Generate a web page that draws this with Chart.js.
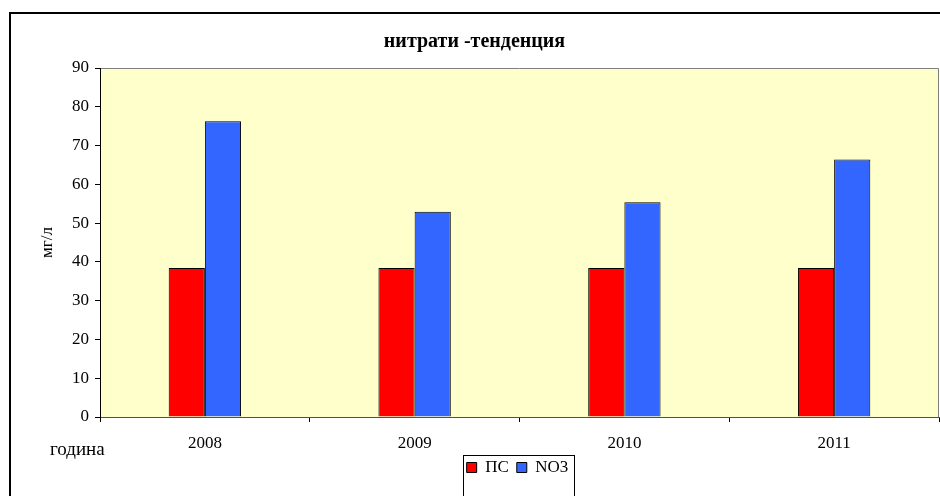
<!DOCTYPE html>
<html>
<head>
<meta charset="utf-8">
<title>нитрати -тенденция</title>
<script src="https://cdn.jsdelivr.net/npm/chart.js@4/dist/chart.umd.min.js"></script>
<style>
  html, body { margin: 0; padding: 0; background: #ffffff; overflow: hidden; }
  #wrap { width: 940px; height: 496px; position: relative; }
</style>
</head>
<body>
<div id="wrap"><canvas id="chart" width="940" height="496"></canvas></div>
<script>
// Годишни стойности на нитратите (мг/л)
const categories = ['2008', '2009', '2010', '2011'];
const psValues = [38.4, 38.4, 38.4, 38.4];      // ПС – праг
const no3Values = [76.3, 52.9, 55.4, 66.4];     // измерени NO3
const seriesNames = ['ПС', 'NO3'];
const yMin = 0, yMax = 90, yStep = 10;
const titleText = 'нитрати -тенденция';
const yTitleText = 'мг/л';
const xTitleText = 'година';

const SERIF = '"Liberation Serif", "Times New Roman", serif';

// Frame, plot background and the small legend box
const decorations = {
  id: 'decorations',
  afterLayout(chart) {
    // keep the legend centred under the plot area
    const lg = chart.legend, ca = chart.chartArea;
    if (!lg) return;
    const mid = (lg.left + lg.right) / 2;
    const dx = (ca.left + ca.right) / 2 - 2 - mid;
    lg.left += dx; lg.right += dx;
  },
  beforeDraw(chart) {
    const ctx = chart.ctx, ca = chart.chartArea;
    ctx.save();
    ctx.fillStyle = '#ffffff';
    ctx.fillRect(0, 0, chart.width, chart.height);
    // outer chart frame
    ctx.strokeStyle = '#000000';
    ctx.lineWidth = 2;
    ctx.strokeRect(10, 13, chart.width + 20, chart.height + 20);
    // plot area
    ctx.fillStyle = '#ffffcc';
    ctx.fillRect(ca.left, ca.top, ca.right - ca.left, ca.bottom - ca.top);
    ctx.strokeStyle = '#808080';
    ctx.lineWidth = 1;
    ctx.beginPath();
    ctx.moveTo(ca.left, ca.top + 0.5);
    ctx.lineTo(ca.right - 0.5, ca.top + 0.5);
    ctx.lineTo(ca.right - 0.5, ca.bottom);
    ctx.stroke();
    ctx.restore();
  },
  afterDraw(chart) {
    const ctx = chart.ctx;
    ctx.save();
    // category axis caption at the left
    ctx.fillStyle = '#000000';
    ctx.font = '19px ' + SERIF;
    ctx.textAlign = 'left';
    ctx.textBaseline = 'middle';
    ctx.fillText(xTitleText, 50, 450);
    // legend border
    const boxes = chart.legend && chart.legend.legendHitBoxes;
    if (boxes && boxes.length) {
      const first = boxes[0], last = boxes[boxes.length - 1];
      const x0 = Math.round(first.left) - 3.5;
      const x1 = Math.round(last.left + last.width) + 6.5;
      ctx.strokeStyle = '#000000';
      ctx.lineWidth = 1;
      ctx.strokeRect(x0, 455.5, x1 - x0, 60);
    }
    ctx.restore();
  }
};

new Chart(document.getElementById('chart'), {
  type: 'bar',
  data: {
    labels: categories,
    datasets: [
      {
        label: seriesNames[0],
        data: psValues,
        backgroundColor: '#ff0000',
        borderColor: '#000000',
        borderWidth: 1
      },
      {
        label: seriesNames[1],
        data: no3Values,
        backgroundColor: '#3366ff',
        borderColor: '#000000',
        borderWidth: 1
      }
    ]
  },
  options: {
    responsive: false,
    animation: false,
    devicePixelRatio: 1,
    layout: { padding: { left: 10, right: 1, top: 0, bottom: 10 } },
    datasets: { bar: { barPercentage: 1, categoryPercentage: 0.345 } },
    plugins: {
      tooltip: { enabled: false },
      title: {
        display: true,
        text: titleText,
        color: '#000000',
        font: { family: SERIF, size: 20, weight: 'bold' },
        padding: { top: 30, bottom: 14 }
      },
      legend: {
        display: true,
        position: 'bottom',
        labels: {
          color: '#000000',
          font: { family: SERIF, size: 17 },
          boxWidth: 10,
          boxHeight: 10,
          padding: 8
        }
      }
    },
    scales: {
      x: {
        grid: {
          display: true,
          drawOnChartArea: false,
          drawTicks: true,
          tickLength: 5,
          color: '#000000',
          offset: true
        },
        border: { display: true, color: '#505050', width: 1 },
        ticks: {
          color: '#000000',
          font: { family: SERIF, size: 17 },
          padding: 11
        },
        afterFit(scale) { scale.height = 34; }
      },
      y: {
        min: yMin,
        max: yMax,
        ticks: {
          stepSize: yStep,
          color: '#000000',
          font: { family: SERIF, size: 17 },
          padding: 6
        },
        grid: {
          display: true,
          drawOnChartArea: false,
          drawTicks: true,
          tickLength: 5,
          color: '#000000'
        },
        border: { display: true, color: '#000000', width: 1 },
        title: {
          display: true,
          text: yTitleText,
          color: '#000000',
          font: { family: SERIF, size: 17 },
          padding: { top: 27, bottom: 0 }
        },
        afterFit(scale) { scale.width = 90; }
      }
    }
  },
  plugins: [decorations]
});
</script>
</body>
</html>
